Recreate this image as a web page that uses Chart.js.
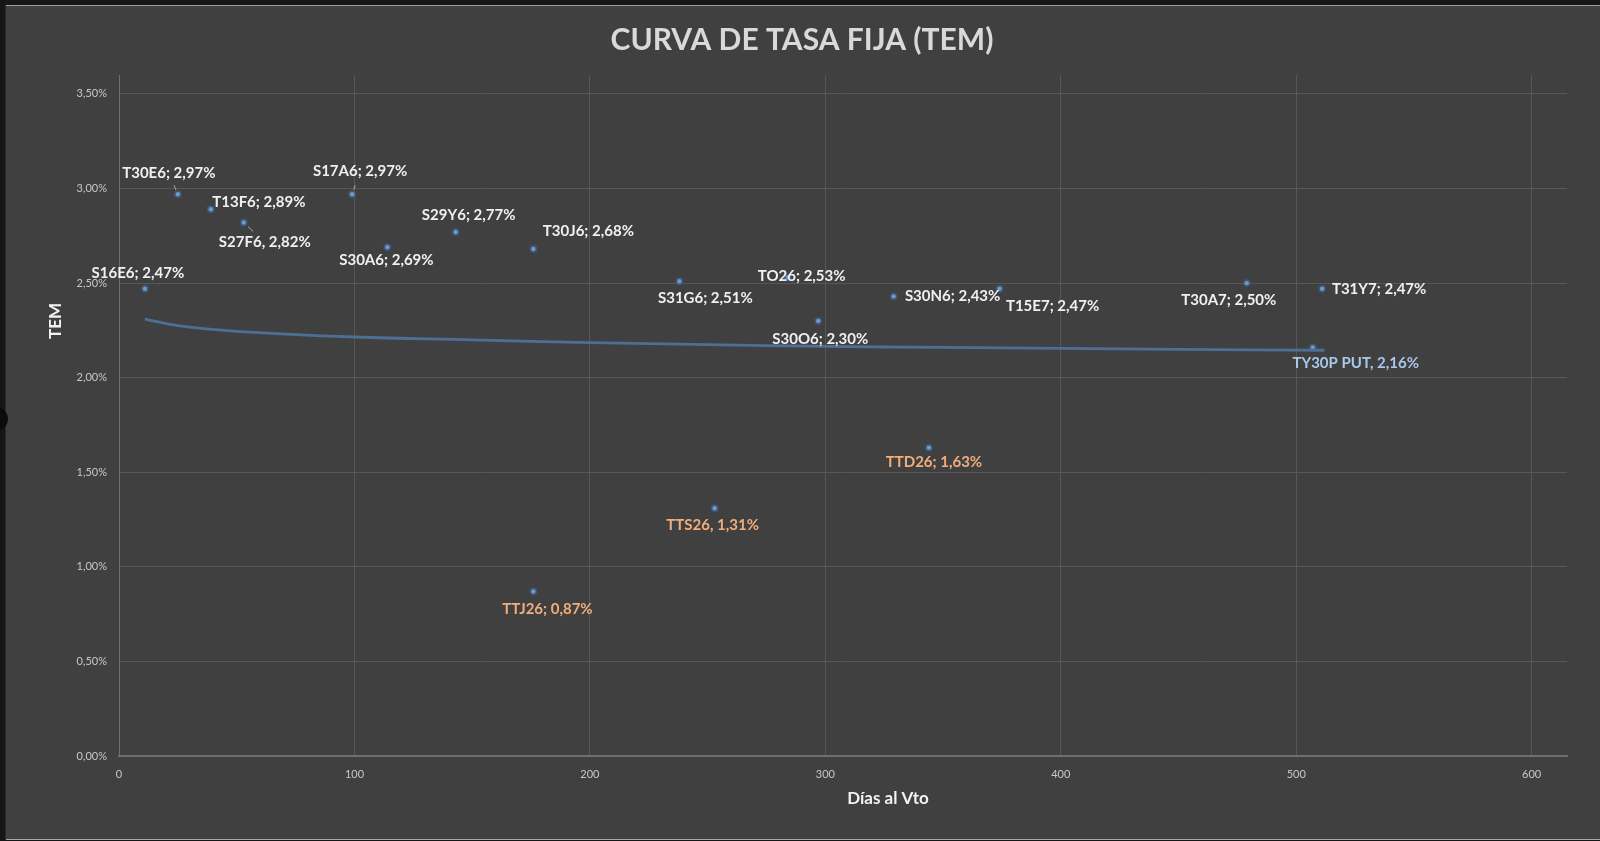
<!DOCTYPE html>
<html>
<head>
<meta charset="utf-8">
<title>Curva de tasa fija (TEM)</title>
<script src="https://cdn.jsdelivr.net/npm/chart.js@4.4.1/dist/chart.umd.min.js"></script>
<style>
  html, body { margin: 0; padding: 0; width: 1600px; height: 841px; overflow: hidden; background: #151717; }
  #panel { position: absolute; left: 6px; top: 6px; width: 1594px; height: 833px; background: #404040; }
  #edgeTop { position: absolute; left: 5px; top: 5px; width: 1595px; height: 1px; background: #9c9c9c; }
  #edgeBottom { position: absolute; left: 5px; top: 839px; width: 1595px; height: 1px; background: #a8a8a8; }
  #edgeLeft { position: absolute; left: 5px; top: 5px; width: 1px; height: 835px; background: #2c2c2c; }
  #knob { position: absolute; left: -10px; top: 408px; width: 18px; height: 22px; border-radius: 50%; background: #0c0c0c; }
  canvas { display: block; }
</style>
</head>
<body>
<div id="panel"><canvas id="chart" width="1594" height="833"></canvas></div>
<div id="edgeTop"></div>
<div id="edgeBottom"></div>
<div id="edgeLeft"></div>
<div id="knob"></div>
<script>
// Data ------------------------------------------------------------------------
const names = ['S16E6', 'T30E6', 'T13F6', 'S27F6', 'S17A6', 'S30A6', 'S29Y6', 'T30J6',
  'S31G6', 'TO26', 'S30O6', 'S30N6', 'T15E7', 'T30A7', 'T31Y7', 'TY30P PUT',
  'TTJ26', 'TTS26', 'TTD26'];
const days = [11, 25, 39, 53, 99, 114, 143, 176, 238, 284, 297, 329, 374, 479, 511, 507,
  176, 253, 344];
const tem = [2.47, 2.97, 2.89, 2.82, 2.97, 2.69, 2.77, 2.68, 2.51, 2.53, 2.30, 2.43, 2.47,
  2.50, 2.47, 2.16, 0.87, 1.31, 1.63];
const seps = [';', ';', ';', ',', ';', ';', ';', ';', ';', ';', ';', ';', ';', ';', ';', ',',
  ';', ',', ';'];
const groups = ['fija', 'fija', 'fija', 'fija', 'fija', 'fija', 'fija', 'fija', 'fija', 'fija',
  'fija', 'fija', 'fija', 'fija', 'fija', 'put', 'dual', 'dual', 'dual'];

// log trend line
const trendDays = [11, 25, 50, 100, 150, 200, 250, 300, 350, 400, 450, 512];
const trendTem = [2.31, 2.275, 2.245, 2.215, 2.20, 2.185, 2.175, 2.165, 2.16, 2.155, 2.15, 2.145];

const xTicks = [0, 100, 200, 300, 400, 500, 600];
const yTicks = [0, 0.5, 1, 1.5, 2, 2.5, 3, 3.5];

const chartTitle = 'CURVA DE TASA FIJA (TEM)';

// Label placement (pixel offsets from each point) ------------------------------
const labelOffsets = [[-7, -16], [-9, -21], [48, -7], [21, 20], [8, -23], [-1, 13], [13, -17],
  [55, -18], [26, 17], [14, -1], [2, 18], [59, 0], [53, 17], [-18, 17], [57, 0], [43, 16],
  [14, 18], [-2, 17], [5, 14]];
const leaders = [false, true, false, true, true, false, false, false, false, false, false,
  false, false, false, false, false, false, false, false];
const labelColors = { fija: '#f0f0f0', put: '#a9c9ea', dual: '#f2ad7c' };

function pct(v) {
  return v.toFixed(2).replace('.', ',') + '%';
}

// Plugin: title, data labels, axis titles ----------------------------------------
const decorations = {
  id: 'decorations',
  afterDatasetsDraw(chart) {
    const ctx = chart.ctx;
    const meta = chart.getDatasetMeta(1);
    ctx.save();
    ctx.textAlign = 'center';
    ctx.textBaseline = 'middle';

    // Title
    ctx.fillStyle = '#d9d9d9';
    ctx.font = 'bold 30px Lato';
    ctx.fillText(chartTitle, 796, 34);

    ctx.font = 'bold 15px Lato';
    meta.data.forEach((pt, i) => {
      const text = names[i] + seps[i] + ' ' + pct(tem[i]);
      const cx = pt.x + labelOffsets[i][0];
      const cy = pt.y + labelOffsets[i][1];

      if (leaders[i]) {
        const w = ctx.measureText(text).width / 2 + 2;
        const h = 9;
        const vx = cx - pt.x, vy = cy - pt.y;
        // where the segment point->center leaves the label box
        let t = 1;
        if (vx !== 0) t = Math.min(t, Math.abs((Math.abs(vx) - w) / vx));
        if (vy !== 0) t = Math.min(t, Math.abs((Math.abs(vy) - h) / vy));
        ctx.strokeStyle = '#a6a6a6';
        ctx.lineWidth = 1;
        ctx.beginPath();
        ctx.moveTo(pt.x + vx * 0.2, pt.y + vy * 0.2);
        ctx.lineTo(pt.x + vx * (1 - t), pt.y + vy * (1 - t));
        ctx.stroke();
      }

      ctx.fillStyle = labelColors[groups[i]];
      ctx.fillText(text, cx, cy);
    });

    // Axis titles
    ctx.fillStyle = '#f2f2f2';
    ctx.font = 'bold 17px Lato';
    ctx.fillText('Días al Vto', 882, 793);
    ctx.translate(50, 315);
    ctx.rotate(-Math.PI / 2);
    ctx.fillText('TEM', 0, 0);
    ctx.restore();
  }
};

// Chart ----------------------------------------------------------------------
const ctx = document.getElementById('chart');

new Chart(ctx, {
  type: 'scatter',
  plugins: [decorations],
  data: {
    datasets: [{
      type: 'line',
      label: 'Tendencia',
      data: trendDays.map((d, i) => ({ x: d, y: trendTem[i] })),
      borderColor: '#4d6f93',
      borderWidth: 2.8,
      pointRadius: 0,
      tension: 0.4,
      fill: false
    }, {
      label: 'TEM',
      data: days.map((d, i) => ({ x: d, y: tem[i] })),
      pointRadius: 2.2,
      pointBorderWidth: 3.5,
      pointBackgroundColor: '#9fc3e6',
      pointBorderColor: 'rgba(62, 108, 165, 0.5)'
    }]
  },
  options: {
    responsive: false,
    animation: false,
    layout: { padding: { left: 0, right: 33, top: 69, bottom: 0 } },
    plugins: {
      legend: { display: false },
      tooltip: { enabled: false },
      title: { display: false }
    },
    scales: {
      x: {
        type: 'linear',
        min: 0,
        max: 615,
        afterFit(scale) { scale.height = 83; },
        afterBuildTicks(scale) { scale.ticks = xTicks.map(v => ({ value: v })); },
        grid: { color: '#575757', lineWidth: 1, drawTicks: false },
        border: { color: '#6e6e6e', width: 2 },
        ticks: {
          color: '#c8c8c8',
          padding: 12,
          font: { family: 'Lato', size: 11 },
          maxRotation: 0
        }
      },
      y: {
        min: 0,
        max: 3.6,
        afterFit(scale) { scale.width = 113; },
        afterBuildTicks(scale) { scale.ticks = yTicks.map(v => ({ value: v })); },
        grid: { color: '#575757', lineWidth: 1, drawTicks: false },
        border: { color: '#6e6e6e', width: 1 },
        ticks: {
          color: '#c8c8c8',
          padding: 12,
          font: { family: 'Lato', size: 11 },
          callback: v => pct(v)
        }
      }
    }
  }
});
</script>
</body>
</html>
